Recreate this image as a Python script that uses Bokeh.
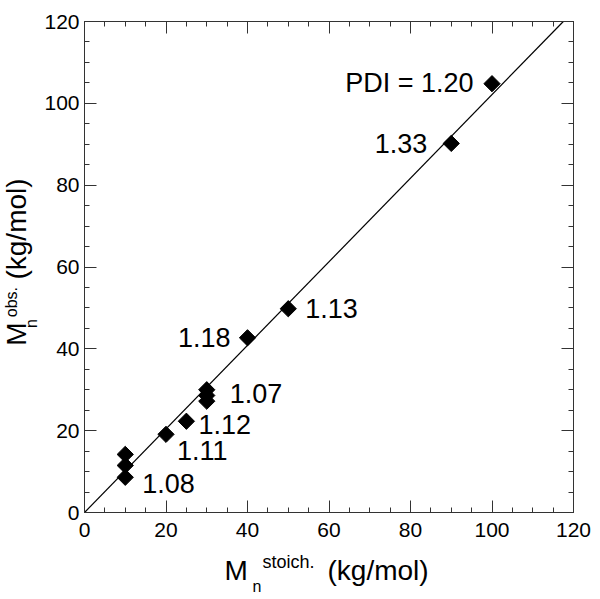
import math
from bokeh.plotting import figure
from bokeh.layouts import row, column
from bokeh.models import (Range1d, LinearAxis, SingleIntervalTicker, Label,
                          ColumnDataSource, CustomJSTickFormatter)
from bokeh.core.properties import value
from bokeh.embed import file_html
from bokeh.resources import INLINE

# ---- data ----
x_stoich = [10, 10, 10, 20, 25, 30, 30, 30, 40, 50, 90, 100]
y_obs = [14.2, 11.5, 8.6, 19.1, 22.3, 30.0, 28.6, 27.2, 42.7, 49.8, 90.2, 104.8]

pdi_text = ["1.08", "1.11", "1.12", "1.07", "1.18", "1.13", "1.33", "PDI = 1.20"]
pdi_x = [10, 20, 25, 30, 40, 50, 90, 100]
pdi_y = [8.6, 19.1, 22.3, 28.6, 42.7, 49.8, 90.2, 104.8]

fit_x = [0, 117.5]
fit_y = [0, 120]

x_min, x_max = 0, 120
y_min, y_max = 0, 120

x_title = ["M", "n", "stoich.", "(kg/mol)"]
y_title = ["M", "n", "obs.", "(kg/mol)"]

# ---- layout / styling ----
FONT = "Liberation Sans"
BASE_FIX = 0.36                # em: raise text so its baseline lands where wanted
YT_W = 39                      # width of the y-title strip
W, H = 557, 548                # main figure
ML, MR, MT, MB = 45, 23, 21, 36
XT_W, XT_H = YT_W + W, 48      # x-title strip
FW, FH = W - ML - MR, H - MT - MB
sx = FW / (x_max - x_min)
sy = FH / (y_max - y_min)

LAB_FS = 27
lab_dx = [17, 11, 12, 23, -17, 17, -24, -18.5]
lab_dy = [16, 26, 13, 8, 9, 9, 10, 9]
lab_align = ["left", "left", "left", "left", "right", "left", "right", "right"]

p = figure(width=W, height=H, output_backend="svg", toolbar_location=None,
           x_range=Range1d(x_min, x_max), y_range=Range1d(y_min, y_max),
           min_border_left=ML, min_border_right=MR, min_border_top=MT,
           min_border_bottom=MB, x_axis_type=None, y_axis_type=None, title=None)
p.background_fill_color = "white"
p.border_fill_color = "white"
p.outline_line_color = None
p.xgrid.visible = False
p.ygrid.visible = False


def make_axis(show_labels):
    ax = LinearAxis(ticker=SingleIntervalTicker(interval=20, num_minor_ticks=4))
    ax.axis_line_color = "#333333"
    ax.axis_line_width = 1
    ax.major_tick_line_color = "#333333"
    ax.minor_tick_line_color = "#333333"
    ax.major_tick_in = 12
    ax.major_tick_out = 0
    ax.minor_tick_in = 5
    ax.minor_tick_out = 0
    if show_labels:
        ax.major_label_text_font = FONT
        ax.major_label_text_font_size = "21px"
        ax.major_label_text_color = "black"
    else:
        ax.formatter = CustomJSTickFormatter(code="return ''")
        ax.major_label_standoff = 0
        ax.major_label_text_font_size = "1px"
    return ax


bx = make_axis(True)
bx.major_label_standoff = 10
ly = make_axis(True)
ly.major_label_standoff = 5
p.add_layout(bx, "below")
p.add_layout(ly, "left")
p.add_layout(make_axis(False), "above")
p.add_layout(make_axis(False), "right")

p.line(fit_x, fit_y, line_color="black", line_width=1.2)
p.scatter(x_stoich, y_obs, marker="square", size=11.5, angle=math.pi / 4,
          fill_color="black", line_color="black")

for align in ("left", "right"):
    idx = [i for i, a in enumerate(lab_align) if a == align]
    src = ColumnDataSource(dict(
        x=[pdi_x[i] + lab_dx[i] / sx for i in idx],
        y=[pdi_y[i] - (lab_dy[i] - BASE_FIX * LAB_FS) / sy for i in idx],
        t=[pdi_text[i] for i in idx]))
    p.text("x", "y", text="t", source=src, text_font=value(FONT),
           text_font_size=f"{LAB_FS}px", text_color="black",
           text_align=align, text_baseline="alphabetic")


def strip(width, height):
    f = figure(width=width, height=height, output_backend="svg",
               toolbar_location=None, x_range=Range1d(0, width),
               y_range=Range1d(0, height), x_axis_type=None, y_axis_type=None,
               min_border_left=0, min_border_right=0, min_border_top=0,
               min_border_bottom=0, title=None)
    f.outline_line_color = None
    f.xgrid.visible = False
    f.ygrid.visible = False
    f.background_fill_color = "white"
    f.border_fill_color = "white"
    return f


def add_label(f, text, x, y, size, angle=0.0):
    f.add_layout(Label(x=x, y=y, text=text, text_font=FONT,
                       text_font_size=f"{size}px", text_color="black",
                       text_align="left", text_baseline="alphabetic",
                       angle=angle))


# x-axis title strip: spans the full page width, page y from H to H+XT_H
xt = strip(XT_W, XT_H)
x_pos = [(224, 580, 28), (252, 592, 16), (262, 568, 18), (327, 580, 28)]
for t, (px, py, fs) in zip(x_title, x_pos):
    add_label(xt, t, px, XT_H - (py - H) + BASE_FIX * fs, fs)

# y-axis title strip (page x from 0 to YT_W, page y from 0 to H); rotated text
yt = strip(YT_W, H)
rot = math.pi / 2
y_pos = [(26, 362, 28), (37, 342, 16), (17, 330, 16), (26, 288, 28)]
for t, (px, py, fs) in zip(y_title, y_pos):
    add_label(yt, t, px - BASE_FIX * fs, H - py, fs, rot)

layout = column(row(yt, p), xt)
open("out.html", "w").write(file_html(layout, INLINE))
